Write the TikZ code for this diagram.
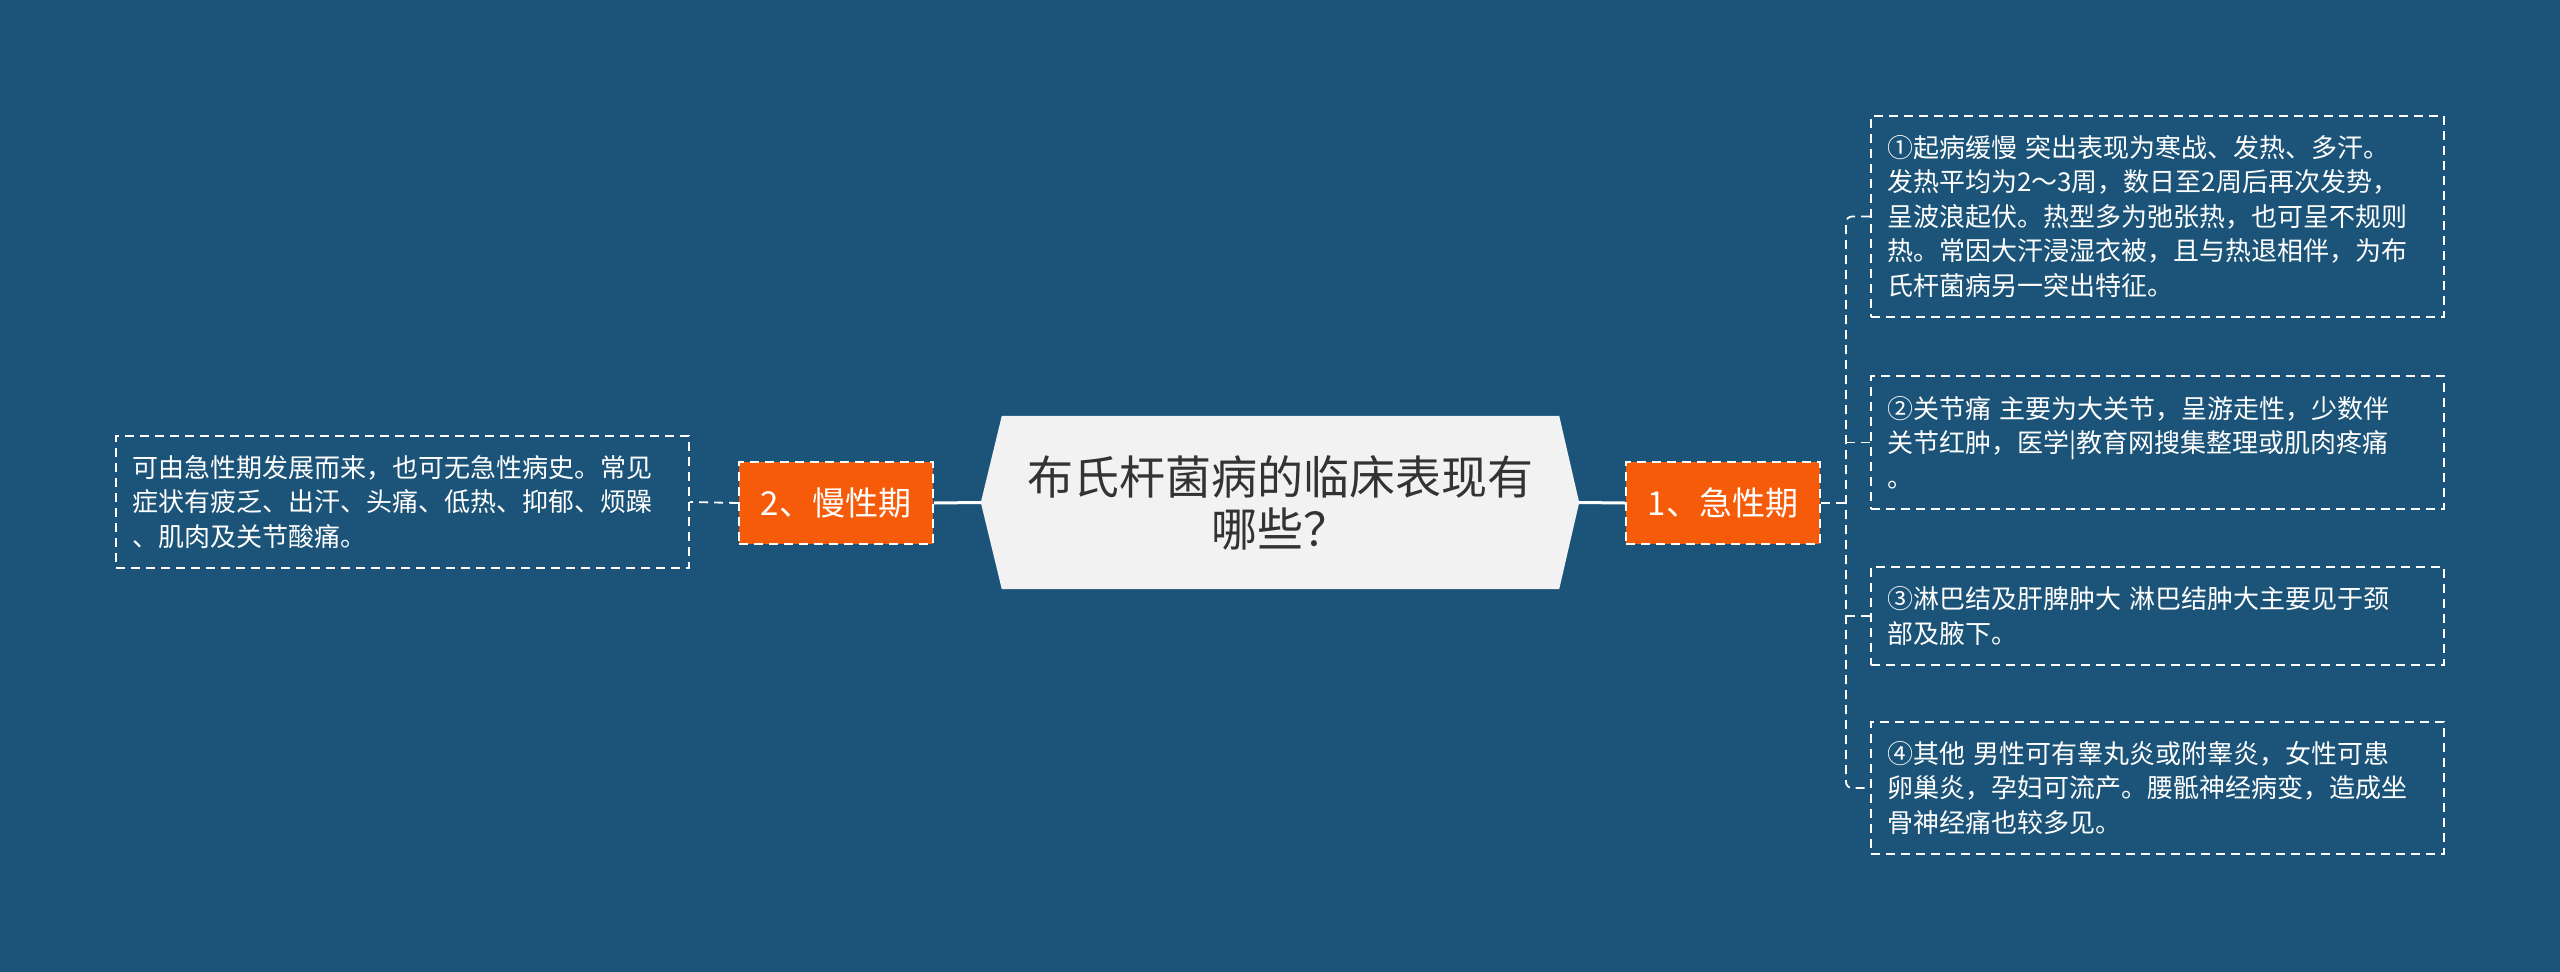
\documentclass[tikz,border=0pt]{standalone}
\usepackage{fontspec}
\setmainfont{Noto Sans CJK SC}
\usetikzlibrary{backgrounds}
\definecolor{bg}{RGB}{27,84,120}
\definecolor{orng}{RGB}{245,91,8}
\definecolor{hexfill}{RGB}{242,242,242}
\definecolor{ctext}{RGB}{51,51,51}
\begin{document}
\begin{tikzpicture}[x=1pt,y=-1pt,
  dashed white/.style={draw=white, line width=1.8pt, dash pattern=on 9pt off 6pt},
  leafbox/.style={dashed white, text=white, align=left, inner xsep=0pt, inner ysep=0pt,
    text width=541pt, minimum width=573pt, font=\fontsize{26pt}{34.5pt}\selectfont},
  topicbox/.style={dashed white, fill=orng, text=white, inner sep=0pt,
    minimum width=194pt, minimum height=82pt, font=\fontsize{33pt}{38pt}\selectfont},
  conn/.style={dashed white, line width=1.8pt},
  mainline/.style={draw=white, line width=3pt}]
\useasboundingbox (0,0) rectangle (2560,972);

% central
\node[font=\fontsize{46pt}{52pt}\selectfont, text=ctext, align=center, inner sep=0pt,
  minimum width=598pt, minimum height=173pt] (c) at (1280,502.5)
  {布氏杆菌病的临床表现有\\哪些？};

% topics
\node[topicbox] (a1) at (1723,503) {1、急性期};
\node[topicbox] (a2) at (836,503) {2、慢性期};

% leaves
\node[leafbox, minimum height=201pt] (r1) at (2157.5,216.5)
 {①起病缓慢 突出表现为寒战、发热、多汗。\\发热平均为2～3周，数日至2周后再次发势，\\呈波浪起伏。热型多为弛张热，也可呈不规则\\热。常因大汗浸湿衣被，且与热退相伴，为布\\氏杆菌病另一突出特征。};
\node[leafbox, minimum height=133pt] (r2) at (2157.5,442.5)
 {②关节痛 主要为大关节，呈游走性，少数伴\\关节红肿，医学|教育网搜集整理或肌肉疼痛\\。};
\node[leafbox, minimum height=98pt] (r3) at (2157.5,616)
 {③淋巴结及肝脾肿大 淋巴结肿大主要见于颈\\部及腋下。};
\node[leafbox, minimum height=132pt] (r4) at (2157.5,788)
 {④其他 男性可有睾丸炎或附睾炎，女性可患\\卵巢炎，孕妇可流产。腰骶神经病变，造成坐\\骨神经痛也较多见。};
\node[leafbox, minimum height=132pt] (l1) at (402.5,502)
 {可由急性期发展而来，也可无急性病史。常见\\症状有疲乏、出汗、头痛、低热、抑郁、烦躁\\、肌肉及关节酸痛。};

% connectors
\coordinate (spine) at (1846,503);
\draw[mainline] (c.east) -- (a1.west);
\draw[mainline] (c.west) -- (a2.east);
\draw[conn] (a2.west) -- (l1.east);
\draw[conn] (a1.east) -- (spine);
\draw[conn, rounded corners=6pt] (r1.west) -- (r1.west -| spine) -- (r4.west -| spine) -- (r4.west);
\draw[conn] (spine |- r2.west) -- (r2.west);
\draw[conn] (spine |- r3.west) -- (r3.west);

\begin{scope}[on background layer]
  \fill[bg] (0,0) rectangle (2560,972);
  \fill[hexfill] (c.west) -- ([xshift=21pt]c.north west) -- ([xshift=-20pt]c.north east)
    -- (c.east) -- ([xshift=-20pt]c.south east) -- ([xshift=21pt]c.south west) -- cycle;
\end{scope}
\end{tikzpicture}
\end{document}
